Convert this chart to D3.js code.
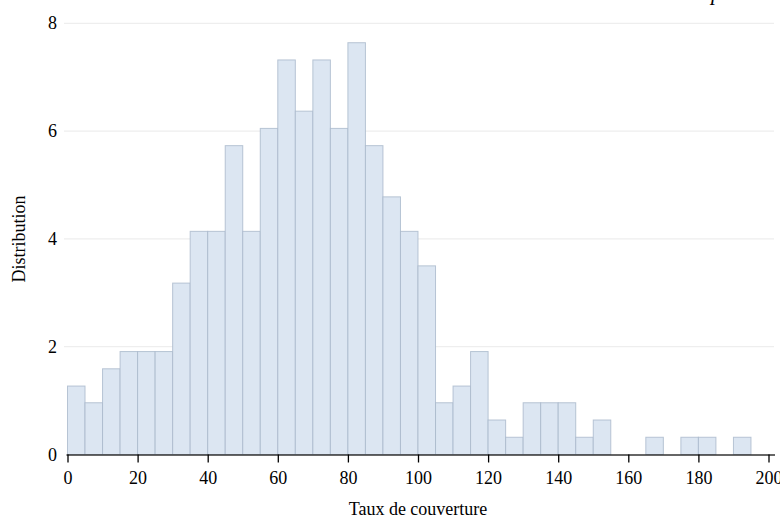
<!DOCTYPE html>
<html>
<head>
<meta charset="utf-8">
<script src="https://cdn.jsdelivr.net/npm/d3@7"></script>
<style>
  html, body { margin: 0; padding: 0; background: #fff; }
  svg { display: block; font-family: "Liberation Serif", "Times New Roman", serif; }
</style>
</head>
<body>
<svg id="chart" width="780" height="518"></svg>
<script>
// Bin starts (width 5) and distribution values (%)
const binStarts = [0,5,10,15,20,25,30,35,40,45,50,55,60,65,70,75,80,85,90,95,
                   100,105,110,115,120,125,130,135,140,145,150,155,160,165,170,175,180,185,190,195];
const values = [1.27,0.96,1.59,1.91,1.91,1.91,3.18,4.14,4.14,5.73,4.14,6.05,7.32,6.37,7.32,6.05,7.64,5.73,4.78,4.14,
                3.50,0.96,1.27,1.91,0.64,0.32,0.96,0.96,0.96,0.32,0.64,0,0,0.32,0,0.32,0.32,0,0.32,0];
const binWidth = 5;
const xTicks = [0,20,40,60,80,100,120,140,160,180,200];
const yTicks = [0,2,4,6,8];
const xLabel = "Taux de couverture";
const yLabel = "Distribution";

const svg = d3.select("#chart");
const x = d3.scaleLinear().domain([0, 200]).range([67.5, 768.5]);
const y = d3.scaleLinear().domain([0, 8]).range([454.5, 23.3]);

// grid lines
svg.append("g").selectAll("line").data(yTicks.filter(d => d > 0)).join("line")
  .attr("x1", 64).attr("x2", 774)
  .attr("y1", d => y(d)).attr("y2", d => y(d))
  .attr("stroke", "#eeeeee").attr("stroke-width", 1.2);

// y tick labels
svg.append("g").selectAll("text").data(yTicks).join("text")
  .attr("x", 57).attr("y", d => y(d) + 6)
  .attr("text-anchor", "end")
  .attr("font-size", 18).attr("fill", "#000")
  .text(d => d);

// bars
const data = binStarts.map((b, i) => ({ b, v: values[i] }));
svg.append("g").selectAll("rect").data(data).join("rect")
  .attr("x", d => x(d.b))
  .attr("width", d => x(d.b + binWidth) - x(d.b))
  .attr("y", d => y(d.v))
  .attr("height", d => y(0) - y(d.v))
  .attr("fill", "#dce6f2")
  .attr("stroke", "#a9b8ca")
  .attr("stroke-opacity", 0.8)
  .attr("stroke-width", 1);

// x axis
const xAxis = d3.axisBottom(x).tickValues(xTicks).tickSize(8).tickSizeOuter(0).tickPadding(9);
const gx = svg.append("g").attr("transform", `translate(0,${y(0)})`).call(xAxis);
gx.select(".domain").attr("stroke", "#333").attr("stroke-width", 1.3).attr("d", `M${x(0) - 1},0.5H775`);
gx.selectAll(".tick line").attr("stroke", "#000").attr("stroke-width", 1.3);
gx.selectAll(".tick text").attr("font-size", 18).attr("font-family", "Liberation Serif, serif").attr("fill", "#000");

// axis titles
svg.append("text")
  .attr("x", (x(0) + x(200)) / 2).attr("y", 515)
  .attr("text-anchor", "middle").attr("font-size", 18).attr("fill", "#000")
  .text(xLabel);
svg.append("text")
  .attr("transform", "translate(25,239) rotate(-90)")
  .attr("text-anchor", "middle").attr("font-size", 18).attr("fill", "#000")
  .text(yLabel);

// clipped title fragment at top right
svg.append("text")
  .attr("x", 711).attr("y", -0.5)
  .attr("font-size", 22).attr("font-style", "italic").attr("fill", "#000")
  .text("p");
</script>
</body>
</html>
